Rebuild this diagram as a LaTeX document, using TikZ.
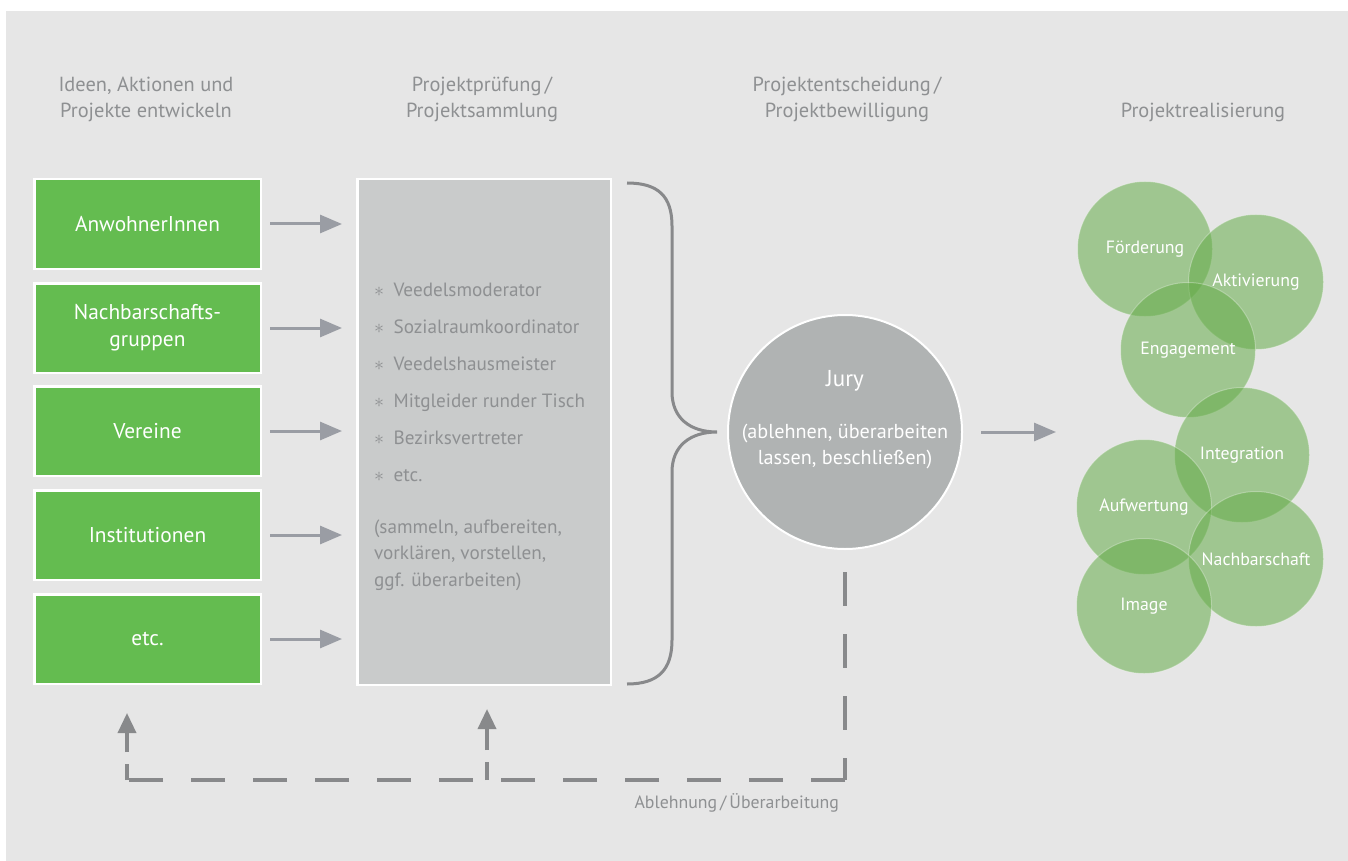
\documentclass[tikz,border=0pt]{standalone}
\usepackage{fontspec}
\setmainfont{PT Sans}
\usetikzlibrary{arrows.meta,positioning}
\definecolor{paper}{HTML}{E6E6E6}
\definecolor{leaf}{HTML}{64BC50}
\definecolor{panel}{HTML}{C9CBCB}
\definecolor{stone}{HTML}{B0B3B3}
\definecolor{muted}{HTML}{8E9092}
\definecolor{steel}{HTML}{9A9DA4}
\definecolor{dark}{HTML}{88898B}
\definecolor{bubble}{HTML}{66AC4A}
\tikzset{
  head/.style={text=muted, font=\fontsize{10.2}{13}\selectfont, align=center},
  actor/.style={rectangle, fill=leaf, draw=white, line width=1.25pt, minimum width=113.25pt,
    minimum height=44.75pt, inner sep=0pt, text=white, font=\fontsize{10.7}{13.5}\selectfont, align=center},
  pool/.style={rectangle, fill=panel, draw=white, line width=1.25pt, minimum width=126.75pt,
    minimum height=252.75pt, inner sep=0pt},
  jurybox/.style={circle, fill=stone, draw=white, line width=1pt, minimum size=117pt, inner sep=0pt},
  jurytext/.style={text=white, font=\fontsize{10.1}{13}\selectfont, align=center},
  feed/.style={draw=steel, line width=1.5pt, -{Triangle[length=11pt,width=9pt]}},
  brace/.style={draw=dark, line width=1.5pt},
  loopback/.style={draw=dark, line width=1.75pt, dash pattern=on 17pt off 14pt},
  stub/.style={draw=dark, line width=1.75pt},
  rise/.style={draw=dark, line width=1.75pt, -{Triangle[length=10pt,width=9pt]}},
  bubble/.style={circle, fill=bubble, fill opacity=0.55, text opacity=1, draw=white, draw opacity=0.3,
    line width=0.5pt, minimum size=67.5pt, inner sep=0pt, text=white, font=\fontsize{8.9}{10}\selectfont},
  lab/.style={text=muted, font=\fontsize{9.6}{13}\selectfont, align=left},
}
\begin{document}
\begin{tikzpicture}[x=0.5pt,y=-0.5pt]
  \useasboundingbox (0,0) rectangle (1348,861);
  \fill[white] (0,0) rectangle (1348,861);
  \fill[paper] (6,11) rectangle (1348,861);

  % column heads
  \node[head] (h1) at (146,99) {Ideen, Aktionen und\\Projekte entwickeln};
  \node[head] (h2) at (482,99) {Projektprüfung\,/\\Projektsammlung};
  \node[head] (h3) at (847,99) {Projektentscheidung\,/\\Projektbewilligung};
  \node[head] (h4) at (1203,112) {Projektrealisierung};

  % actors
  \node[actor] (a1) at (147.5,224) {AnwohnerInnen};
  \node[actor] (a2) at (147.5,328) {Nachbarschafts-\\gruppen};
  \node[actor] (a3) at (147.5,431) {Vereine};
  \node[actor] (a4) at (147.5,535) {Institutionen};
  \node[actor] (a5) at (147.5,639) {etc.};

  % collecting panel
  \node[pool] (pool) at (484,432) {};
  \node[lab, anchor=base west, font=\fontsize{9.6}{18.5}\selectfont] (roles) at (367,481)
    {$\ast$\enspace Veedelsmoderator\\$\ast$\enspace Sozialraumkoordinator\\
     $\ast$\enspace Veedelshausmeister\\$\ast$\enspace Mitgleider runder Tisch\\
     $\ast$\enspace Bezirksvertreter\\$\ast$\enspace etc.};
  \node[lab, anchor=base west, font=\fontsize{9.6}{13.25}\selectfont] (tasks) at (367,586)
    {(sammeln, aufbereiten,\\vorklären, vorstellen,\\ggf. überarbeiten)};

  \draw[feed, shorten <=4pt, shorten >=7pt] (a1.east) -- (a1.east -| pool.west);
  \draw[feed, shorten <=4pt, shorten >=7pt] (a2.east) -- (a2.east -| pool.west);
  \draw[feed, shorten <=4pt, shorten >=7pt] (a3.east) -- (a3.east -| pool.west);
  \draw[feed, shorten <=4pt, shorten >=7pt] (a4.east) -- (a4.east -| pool.west);
  \draw[feed, shorten <=4pt, shorten >=7pt] (a5.east) -- (a5.east -| pool.west);

  % brace
  \draw[brace] (627,183) .. controls (658,183) and (672,196) .. (672,226) -- (672,392)
    .. controls (672,418) and (690,432) .. (717,432)
    .. controls (690,432) and (672,446) .. (672,472) -- (672,640)
    .. controls (672,670) and (658,684) .. (627,684);

  % jury
  \node[jurybox] (jury) at (845,432) {};
  \node[jurytext, font=\fontsize{11.5}{13}\selectfont] (juryname) at (845,381) {Jury};
  \node[jurytext] (juryhint) at (845,447) {(ablehnen, überarbeiten\\lassen, beschließen)};
  \coordinate (bloom) at (1056,432);
  \draw[feed, shorten <=9pt] (jury.east) -- (bloom);

  % way back
  \coordinate (drop) at (845,572);
  \coordinate (turn) at (845,780);
  \coordinate (corner) at (127,780);
  \coordinate (mid) at (487,780);
  \draw[loopback] (drop) -- (turn);
  \draw[loopback] (turn) -- (corner);
  \draw[stub] (corner) -- ++(0,-16);
  \draw[stub] (mid) -- ++(0,-18);
  \draw[rise] (127,752) -- (127,713);
  \draw[rise] (487,750) -- (487,709);
  \node[head, anchor=base east, font=\fontsize{8.9}{11}\selectfont] (refusal) at (846,808)
    {Ablehnung\,/\,Überarbeitung};

  % outcomes
  \node[bubble] (foerd) at (1145,249) {Förderung};
  \node[bubble] (aktiv) at (1256,282) {Aktivierung};
  \node[bubble] (engag) at (1188,350) {Engagement};
  \node[bubble] (integ) at (1242,455) {Integration};
  \node[bubble] (aufw) at (1144,507) {Aufwertung};
  \node[bubble] (nachb) at (1256,559) {Nachbarschaft};
  \node[bubble] (image) at (1144,606) {Image};
\end{tikzpicture}
\end{document}
